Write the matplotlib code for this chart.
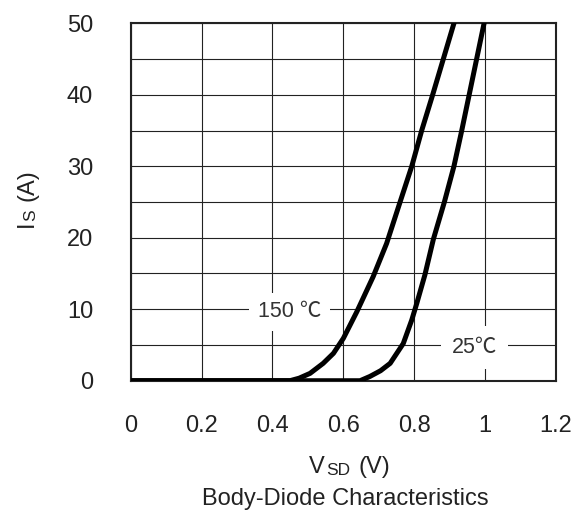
import matplotlib
matplotlib.use("Agg")
import matplotlib.pyplot as plt
import numpy as np

plt.rcParams['font.family'] = ['Liberation Sans', 'Noto Sans CJK SC', 'DejaVu Sans']

# Body-diode curves
v_150 = [0.0, 0.449, 0.475, 0.506, 0.543, 0.572, 0.600, 0.638, 0.684, 0.722, 0.760,
         0.793, 0.821, 0.852, 0.882, 0.912]
i_150 = [0.0, 0.0, 0.35, 1.03, 2.43, 3.83, 5.93, 9.65, 14.55, 19.2, 25.0,
         30.0, 35.0, 40.0, 45.0, 50.0]

v_25 = [0.0, 0.647, 0.675, 0.705, 0.732, 0.769, 0.793, 0.807, 0.830, 0.854, 0.885,
        0.912, 0.934, 0.955, 0.976, 0.997]
i_25 = [0.0, 0.0, 0.6, 1.4, 2.43, 5.2, 8.5, 10.8, 14.8, 19.8, 25.0,
        30.0, 35.0, 40.0, 45.0, 50.0]

x_ticks = [0, 0.2, 0.4, 0.6, 0.8, 1.0, 1.2]
x_labels = ["0", "0.2", "0.4", "0.6", "0.8", "1", "1.2"]
y_ticks = [0, 10, 20, 30, 40, 50]

fig = plt.figure(figsize=(5.81, 5.14), dpi=100)
ax = fig.add_axes([0.225, 0.2593, 0.732, 0.6954])

ax.set_xlim(0, 1.2)
ax.set_ylim(0, 50)

# grid: every 0.2 V and every 5 A
ax.set_xticks(x_ticks)
ax.set_xticklabels(x_labels)
ax.set_yticks(y_ticks)
ax.set_yticks(np.arange(0, 51, 5), minor=True)
ax.grid(True, which='both', color='#222222', linewidth=0.8)
ax.tick_params(which='both', length=0)
ax.tick_params(axis='x', pad=25, labelsize=17, labelcolor='#222222')
ax.tick_params(axis='y', pad=27, labelsize=17, labelcolor='#222222')
for s in ax.spines.values():
    s.set_linewidth(1.5)
    s.set_color('#222222')

ax.plot(v_150, i_150, color='black', linewidth=3.6, solid_joinstyle='round', zorder=3)
ax.plot(v_25, i_25, color='black', linewidth=3.6, solid_joinstyle='round', zorder=3)

# curve labels with white boxes that cut the grid
ax.text(0.4486, 10, "150 ℃", fontsize=15.5, color='#333333', ha='center',
        va='center_baseline', zorder=2.5,
        bbox=dict(facecolor='white', edgecolor='none', boxstyle='square,pad=0.4'))
ax.text(0.969, 5, "25℃", fontsize=15.5, color='#333333', ha='center',
        va='center_baseline', zorder=2.5,
        bbox=dict(facecolor='white', edgecolor='none', boxstyle='square,pad=0.5'))

# x label  "V" + small "SD" + "(V)"
t1 = fig.text(0.5324, 0.0706, "V", fontsize=17, color='#222222', ha='left', va='bottom')
t2 = plt.annotate("SD", xy=(1, 0), xycoords=t1, xytext=(0.5, 0), textcoords='offset points',
                  fontsize=12.5, color='#222222', ha='left', va='bottom',
                  annotation_clip=False)
t3 = plt.annotate("(V)", xy=(1, 0), xycoords=t2, xytext=(6, 0), textcoords='offset points',
                  fontsize=17, color='#222222', ha='left', va='bottom',
                  annotation_clip=False)

# y label  "I" + small "S" + "(A)"
u1 = fig.text(0.066, 0.5577, "I", fontsize=17, color='#222222', rotation=90,
              ha='right', va='bottom')
u2 = plt.annotate("S", xy=(1, 1), xycoords=u1, xytext=(0, 0), textcoords='offset points',
                  fontsize=12.5, color='#222222', rotation=90, ha='right', va='bottom',
                  annotation_clip=False)
u3 = plt.annotate("(A)", xy=(1, 1), xycoords=u2, xytext=(0, 6), textcoords='offset points',
                  fontsize=17, color='#222222', rotation=90, ha='right', va='bottom',
                  annotation_clip=False)

fig.text(0.595, 0.029, "Body-Diode Characteristics", fontsize=17, color='#222222',
         ha='center', va='center')

fig.savefig("out.png", dpi=100)
